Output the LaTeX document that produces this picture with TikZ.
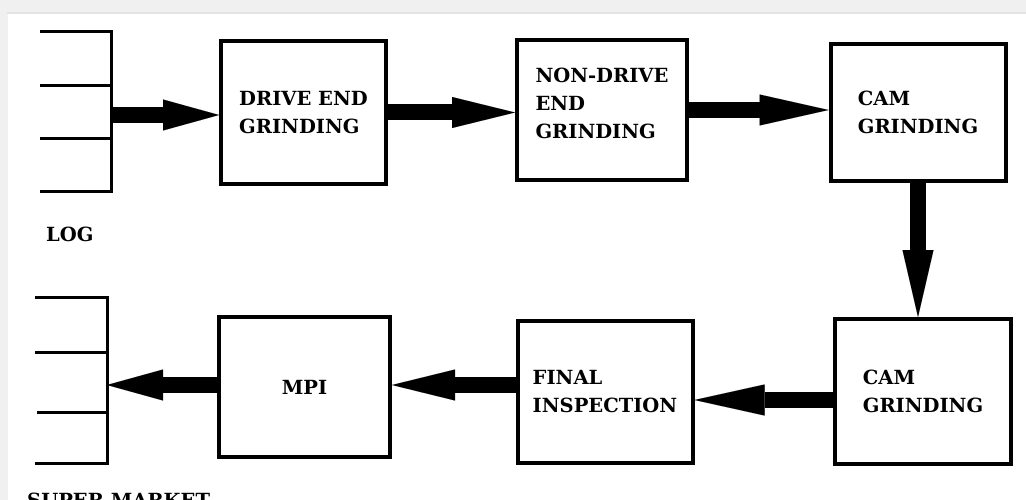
\documentclass[tikz,border=0pt]{standalone}
\usepackage{fontspec}
\setmainfont{DejaVu Serif}
\usetikzlibrary{arrows.meta}
\definecolor{framegray}{HTML}{F0F0F0}
\definecolor{frameedge}{HTML}{E3E3E3}
\begin{document}
\begin{tikzpicture}[x=1pt,y=-1pt,
  stage/.style={draw=black, line width=4pt, fill=white, inner sep=0pt,
    align=left, font=\bfseries\fontsize{19.5}{28}\selectfont},
  bigarrow/.style={line width=16pt,
    -{Triangle[length=#1, width=31pt, line width=0.01pt]}},
  bigarrow/.default=63pt,
  rack/.style={line width=3pt},
  caption/.style={inner sep=0pt, anchor=base west, font=\bfseries\fontsize{19.5}{28}\selectfont}]
  \useasboundingbox (0,0) rectangle (1026,500);
  % page frame
  \fill[framegray] (0,0) rectangle (1026,500);
  \fill[frameedge] (7,12) rectangle (1026,14);
  \fill[white] (8,14) rectangle (1026,500);

  % LOG rack
  \draw[rack] (40,32) -- (111,32) -- (111,192) -- (40,192);
  \draw[rack] (40,86) -- (111,86);
  \draw[rack] (40,139) -- (111,139);
  \coordinate (logport) at (111,115);
  \node[caption] (log) at (46,241) {LOG};

  % SUPER MARKET rack
  \draw[rack] (35,297) -- (107,297) -- (107,463) -- (35,463);
  \draw[rack] (35,352) -- (107,352);
  \draw[rack] (37,412) -- (107,412);
  \coordinate (smport) at (107,385);
  \node[caption] (sm) at (27,507) {SUPER MARKET};

  % stages
  \node[stage, minimum width=165pt, minimum height=143pt] (de) at (303.5,112.5)
    {DRIVE END\\GRINDING};
  \node[stage, minimum width=170pt, minimum height=140pt] (nde) at (602,110)
    {NON-DRIVE\\END\\GRINDING\\[-14pt]};
  \node[stage, minimum width=175pt, minimum height=137pt] (cam1) at (918,112.5)
    {CAM\\GRINDING};
  \node[stage, minimum width=176pt, minimum height=145pt] (cam2) at (923,391.5)
    {CAM\\GRINDING};
  \node[stage, minimum width=175pt, minimum height=142pt] (fin) at (605,391.5)
    {FINAL\\INSPECTION};
  \node[stage, minimum width=171pt, minimum height=140pt] (mpi) at (304.5,387)
    {MPI};

  % material flow
  \draw[bigarrow=56pt] (logport) -- (logport -| de.west);
  \draw[bigarrow] (de.east) -- (de.east -| nde.west);
  \draw[bigarrow=69pt] (nde.east) -- (nde.east -| cam1.west);
  \draw[bigarrow=67pt] (cam1.south) -- (cam1.south |- cam2.north);
  \draw[bigarrow=70pt] ([yshift=-8.5pt]cam2.west) -- ([yshift=-8.5pt]cam2.west -| fin.east);
  \draw[bigarrow] ([yshift=6.5pt]fin.west) -- ([yshift=6.5pt]fin.west -| mpi.east);
  \draw[bigarrow=56pt] (mpi.west |- smport) -- (smport);
\end{tikzpicture}
\end{document}
